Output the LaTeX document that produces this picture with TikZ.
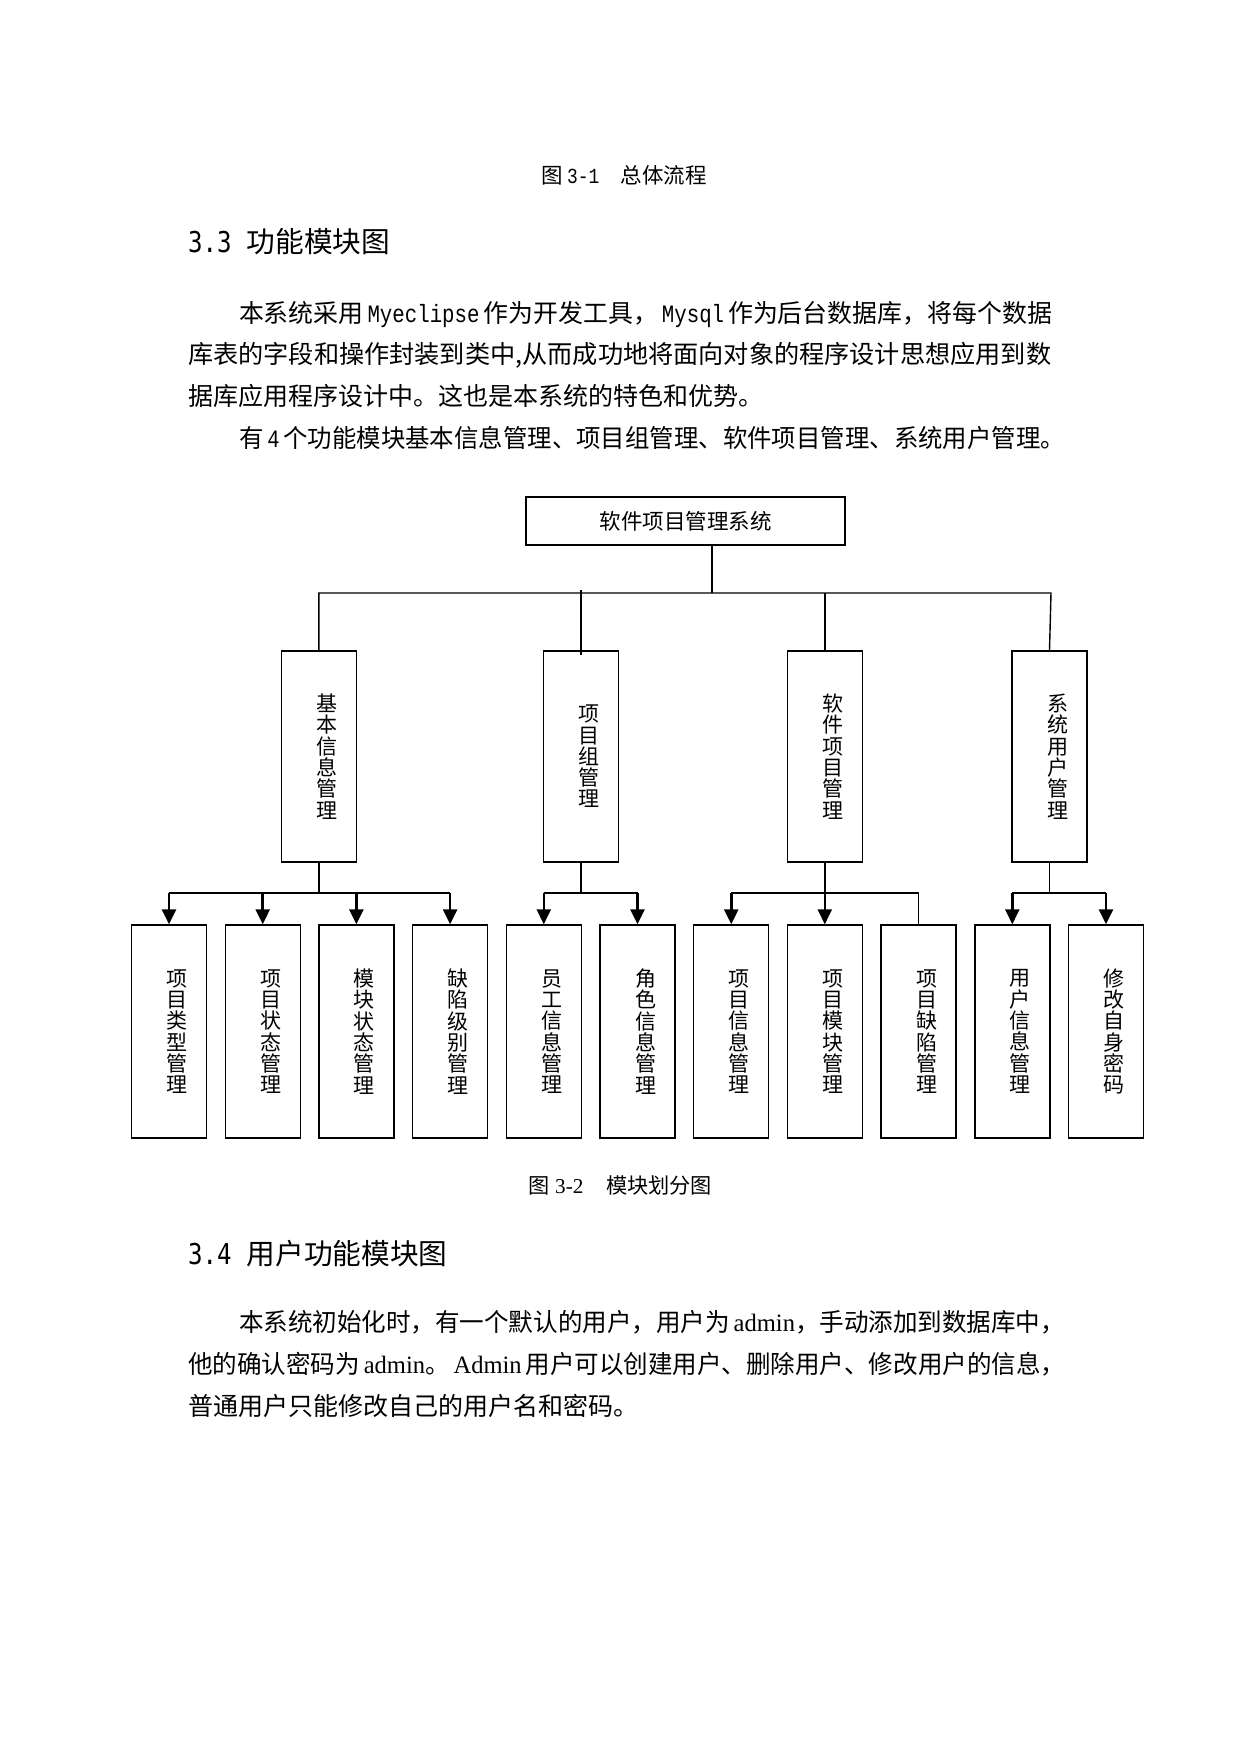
\documentclass[tikz,border=0pt]{standalone}
\usepackage{graphicx}
\usepackage{fontspec}
\setmainfont{Noto Sans CJK SC}
\newfontfamily\monof{Liberation Mono}[FakeStretch=0.833]
\newfontfamily\serff{Liberation Serif}
\newfontfamily\hmono{DejaVu Sans Mono}[FakeStretch=0.84]
\usetikzlibrary{arrows.meta}
\newsavebox\jbox
\newcommand\bodyf{\fontsize{25pt}{25pt}\selectfont}
\newcommand\mw[1]{\hspace{4pt}{\monof\fontsize{25pt}{25pt}\selectfont #1}\hspace{4pt}}
\newcommand\sw[1]{\hspace{4pt}{\serff #1}}
\makeatletter
\newcommand\fitline[2]{%
  \sbox\jbox{#2}%
  \edef\jw{\strip@pt\wd\jbox}%
  \pgfmathsetmacro\jsx{#1/\jw}%
  \scalebox{\jsx}[1]{\usebox\jbox}}
\makeatother
\newcommand\jline[5]{\node[txt,font=\bodyf] (#1) at (#2,#3) {\fitline{#4}{#5}};}
\begin{document}
\begin{tikzpicture}[x=1pt,y=-1pt,
  txt/.style={anchor=base west,inner sep=0pt},
  box/.style={draw,line width=1.4pt,inner sep=0pt},
  topbox/.style={box,minimum width=319pt,minimum height=48pt,font=\fontsize{21.5pt}{21.5pt}\selectfont},
  midbox/.style={box,minimum width=75pt,minimum height=211pt},
  lowbox/.style={box,minimum width=75pt,minimum height=213pt},
  vtext/.style={inner sep=0pt,align=center,font=\fontsize{21pt}{21.3pt}\selectfont},
  conn/.style={line width=1.4pt},
  arr/.style={line width=2.6pt,-{Triangle[width=14pt,length=15pt]}}]

\useasboundingbox (0,0) rectangle (1241,1754);
\fill[white] (0,0) rectangle (1241,1754);

% ---------- text above the figure ----------
\node[txt,font=\fontsize{21.5pt}{21.5pt}\selectfont] (cap1) at (541,183) {图\hspace{4.5pt}{\monof\fontsize{21.5pt}{21.5pt}\selectfont 3-1}\hspace{21.5pt}总体流程};
\node[txt] (h1) at (188,252.6) {{\hmono\fontsize{28.7pt}{29pt}\selectfont 3.3}\hspace{15pt}{\fontsize{28.7pt}{29pt}\selectfont 功能模块图}};
\jline{p1}{238.8}{322}{813}{本系统采用\mw{Myeclipse}作为开发工具，\mw{Mysql}作为后台数据库，将每个数据}
\jline{p2}{188}{363.7}{863}{库表的字段和操作封装到类中,从而成功地将面向对象的程序设计思想应用到数}
\node[txt,font=\bodyf] (p3) at (188,405.3) {据库应用程序设计中。这也是本系统的特色和优势。};
\jline{p4}{238.8}{447}{826}{有\mw{4}个功能模块基本信息管理、项目组管理、软件项目管理、系统用户管理。}

% ---------- boxes ----------
\node[topbox] (T) at (685.5,521) {软件项目管理系统};

\node[midbox] (B1) at (318.9,756.5) {};
\node[midbox] (B2) at (581.1,756.5) {};
\node[midbox] (B3) at (824.8,756.5) {};
\node[midbox] (B4) at (1049.5,756.5) {};
\node[vtext] (B1t) at ([xshift=8pt]B1.center) {基\\本\\信\\息\\管\\理};
\node[vtext] (B2t) at ([xshift=8pt]B2.center) {项\\目\\组\\管\\理};
\node[vtext] (B3t) at ([xshift=8pt]B3.center) {软\\件\\项\\目\\管\\理};
\node[vtext] (B4t) at ([xshift=8pt]B4.center) {系\\统\\用\\户\\管\\理};

\foreach \n/\x/\t in {
  a/169/{项\\目\\类\\型\\管\\理},
  b/262.7/{项\\目\\状\\态\\管\\理},
  c/356.4/{模\\块\\状\\态\\管\\理},
  d/450.1/{缺\\陷\\级\\别\\管\\理},
  e/543.8/{员\\工\\信\\息\\管\\理},
  f/637.5/{角\\色\\信\\息\\管\\理},
  g/731.2/{项\\目\\信\\息\\管\\理},
  h/824.8/{项\\目\\模\\块\\管\\理},
  i/918.6/{项\\目\\缺\\陷\\管\\理},
  j/1012.3/{用\\户\\信\\息\\管\\理},
  k/1106/{修\\改\\自\\身\\密\\码}}{
  \node[lowbox] (\n) at (\x,1031.5) {};
  \node[vtext] (\n t) at ([xshift=8pt]\n.center) {\t};
}

% ---------- level 1 connectors ----------
\coordinate (bus) at (712,593);
\coordinate (busR) at (1051,593);
\coordinate (b2top) at (581.1,590);
\draw[conn] (T.south -| bus) -- (bus);
\draw[conn] (B1.north) |- (busR) -- (B4.north);
\draw[conn] (b2top) -- ([yshift=-5pt]B2.north);
\draw[conn] (B3.north |- bus) -- (B3.north);

% ---------- level 2 connectors ----------
\coordinate (g1) at (318.9,893);
\coordinate (g2) at (581.1,893);
\coordinate (g3) at (824.8,893);
\coordinate (g4) at (1049.5,893);

\draw[conn] (B1.south) -- (g1);
\draw[conn] (a.north |- g1) -- (d.north |- g1);
\foreach \n in {a,b,c,d} \draw[arr] (\n.north |- g1) -- (\n.north);

\draw[conn] (B2.south) -- (g2);
\draw[conn] (e.north |- g2) -- (f.north |- g2);
\foreach \n in {e,f} \draw[arr] (\n.north |- g2) -- (\n.north);

\draw[conn] (g.north |- g3) -- (i.north |- g3) -- (i.north);
\draw[arr] (B3.south) -- (h.north);
\draw[arr] (g.north |- g3) -- (g.north);

\draw[conn] (B4.south) -- (g4);
\draw[conn] (j.north |- g4) -- (k.north |- g4);
\foreach \n in {j,k} \draw[arr] (\n.north |- g4) -- (\n.north);

% ---------- text below the figure ----------
\node[txt,font=\fontsize{21.2pt}{21.2pt}\selectfont] (cap2) at (528.6,1193) {图\hspace{5.2pt}{\serff 3-2}\hspace{22.7pt}模块划分图};
\node[txt] (h2) at (188,1264) {{\hmono\fontsize{28.7pt}{29pt}\selectfont 3.4}\hspace{15pt}{\fontsize{28.7pt}{29pt}\selectfont 用户功能模块图}};
\jline{q1}{238.8}{1331.5}{826}{本系统初始化时，有一个默认的用户，用户为\sw{admin}，手动添加到数据库中，}
\jline{q2}{188}{1373.5}{877}{他的确认密码为\sw{admin}。\sw{Admin}\hspace{4pt}用户可以创建用户、删除用户、修改用户的信息，}
\node[txt,font=\bodyf] (q3) at (188,1415) {普通用户只能修改自己的用户名和密码。};
\end{tikzpicture}
\end{document}
